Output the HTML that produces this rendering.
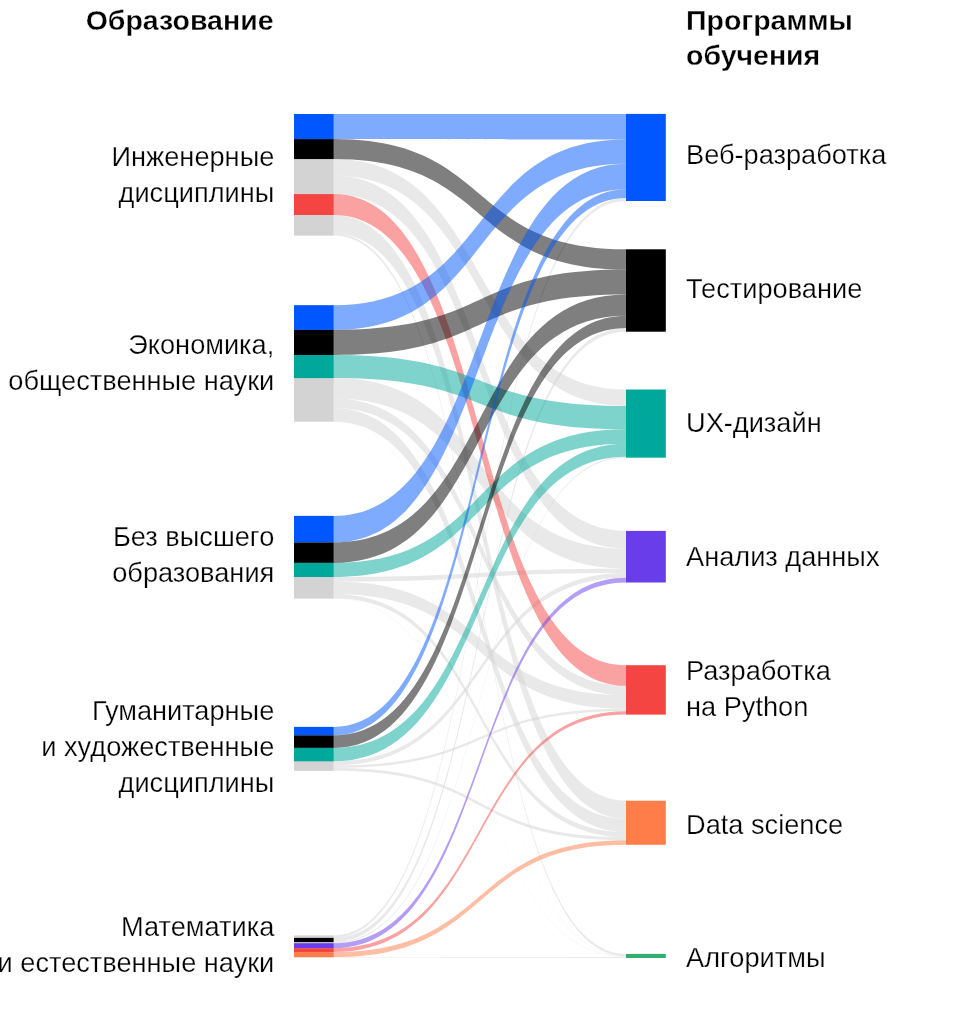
<!DOCTYPE html>
<html><head><meta charset="utf-8"><style>
html,body{margin:0;padding:0;background:#fff;}
svg{display:block;will-change:transform;}
text{font-family:"Liberation Sans",sans-serif;font-size:27.2px;fill:#000;stroke:#fff;stroke-width:0.25px;paint-order:normal;}
text.b{font-weight:bold;font-size:28.5px;stroke-width:0.3px;}
</style></head><body>
<svg width="960" height="1016" viewBox="0 0 960 1016">
<rect width="960" height="1016" fill="#fff"/>
<rect x="294" y="114" width="39.7" height="121.6" fill="#d3d3d3"/>
<rect x="294" y="305.2" width="39.7" height="116.5" fill="#d3d3d3"/>
<rect x="294" y="515.9" width="39.7" height="82.7" fill="#d3d3d3"/>
<rect x="294" y="726.9" width="39.7" height="43.9" fill="#d3d3d3"/>
<rect x="294" y="935.4" width="39.7" height="22.1" fill="#d3d3d3"/>
<rect x="294" y="114" width="39.7" height="25.1" fill="#0057ff"/>
<rect x="294" y="139.1" width="39.7" height="19.96" fill="#000000"/>
<rect x="294" y="194.1" width="39.7" height="20.9" fill="#f54543"/>
<rect x="294" y="305.2" width="39.7" height="24.7" fill="#0057ff"/>
<rect x="294" y="329.9" width="39.7" height="25.1" fill="#000000"/>
<rect x="294" y="355" width="39.7" height="23.1" fill="#00a89c"/>
<rect x="294" y="515.9" width="39.7" height="26.6" fill="#0057ff"/>
<rect x="294" y="542.5" width="39.7" height="20.4" fill="#000000"/>
<rect x="294" y="562.9" width="39.7" height="14.1" fill="#00a89c"/>
<rect x="294" y="726.9" width="39.7" height="8.5" fill="#0057ff"/>
<rect x="294" y="735.4" width="39.7" height="12.5" fill="#000000"/>
<rect x="294" y="747.9" width="39.7" height="13.4" fill="#00a89c"/>
<rect x="294" y="937.9" width="39.7" height="4.2" fill="#000000"/>
<rect x="294" y="943.2" width="39.7" height="5" fill="#6a3deb"/>
<rect x="294" y="948.2" width="39.7" height="3.9" fill="#f54543"/>
<rect x="294" y="952.1" width="39.7" height="5" fill="#ff7d48"/>
<rect x="626" y="113.9" width="39.8" height="87.1" fill="#0057ff"/>
<rect x="626" y="249.3" width="39.8" height="82.4" fill="#000000"/>
<rect x="626" y="389.5" width="39.8" height="68.2" fill="#00a89c"/>
<rect x="626" y="530.9" width="39.8" height="51.6" fill="#6a3deb"/>
<rect x="626" y="665.2" width="39.8" height="49.4" fill="#f54543"/>
<rect x="626" y="800.7" width="39.8" height="44.05" fill="#ff7d48"/>
<rect x="626" y="953.9" width="39.8" height="4.1" fill="#2eb06e"/>
<path d="M333.7 159.06C494.47 159.06 465.24 389.5 626 389.5L626 405.9C465.24 405.9 494.47 175.6 333.7 175.6Z" fill="#d3d3d3" fill-opacity="0.5"/>
<path d="M333.7 175.6C494.47 175.6 465.24 530.9 626 530.9L626 548.6C465.24 548.6 494.47 194.1 333.7 194.1Z" fill="#d3d3d3" fill-opacity="0.5"/>
<path d="M333.7 215C494.47 215 465.24 800.7 626 800.7L626 818.75C465.24 818.75 494.47 233.2 333.7 233.2Z" fill="#d3d3d3" fill-opacity="0.5"/>
<path d="M333.7 233.2C494.47 233.2 465.24 953.9 626 953.9L626 956.3C465.24 956.3 494.47 235.6 333.7 235.6Z" fill="#d3d3d3" fill-opacity="0.5"/>
<path d="M333.7 378.1C494.47 378.1 465.24 548.6 626 548.6L626 568.7C465.24 568.7 494.47 398.5 333.7 398.5Z" fill="#d3d3d3" fill-opacity="0.5"/>
<path d="M333.7 398.5C494.47 398.5 465.24 685.8 626 685.8L626 695.4C465.24 695.4 494.47 408 333.7 408Z" fill="#d3d3d3" fill-opacity="0.5"/>
<path d="M333.7 408C494.47 408 465.24 818.75 626 818.75L626 832.1C465.24 832.1 494.47 421.45 333.7 421.45Z" fill="#d3d3d3" fill-opacity="0.5"/>
<path d="M333.7 421.45C494.47 421.45 465.24 956.3 626 956.3L626 956.55C465.24 956.55 494.47 421.7 333.7 421.7Z" fill="#d3d3d3" fill-opacity="0.5"/>
<path d="M333.7 577C494.47 577 465.24 568.7 626 568.7L626 573C465.24 573 494.47 581.5 333.7 581.5Z" fill="#d3d3d3" fill-opacity="0.5"/>
<path d="M333.7 581.5C494.47 581.5 465.24 695.4 626 695.4L626 708.75C465.24 708.75 494.47 594 333.7 594Z" fill="#d3d3d3" fill-opacity="0.5"/>
<path d="M333.7 594C494.47 594 465.24 832.1 626 832.1L626 837.1C465.24 837.1 494.47 598.35 333.7 598.35Z" fill="#d3d3d3" fill-opacity="0.5"/>
<path d="M333.7 598.35C494.47 598.35 465.24 956.55 626 956.55L626 956.8C465.24 956.8 494.47 598.6 333.7 598.6Z" fill="#d3d3d3" fill-opacity="0.5"/>
<path d="M333.7 761.3C494.47 761.3 465.24 573 626 573L626 577.7C465.24 577.7 494.47 765.5 333.7 765.5Z" fill="#d3d3d3" fill-opacity="0.5"/>
<path d="M333.7 765.5C494.47 765.5 465.24 708.75 626 708.75L626 711.25C465.24 711.25 494.47 767.9 333.7 767.9Z" fill="#d3d3d3" fill-opacity="0.5"/>
<path d="M333.7 767.9C494.47 767.9 465.24 837.1 626 837.1L626 840.2C465.24 840.2 494.47 770.8 333.7 770.8Z" fill="#d3d3d3" fill-opacity="0.5"/>
<path d="M333.7 935.4C494.47 935.4 465.24 198 626 198L626 201C465.24 201 494.47 937.9 333.7 937.9Z" fill="#d3d3d3" fill-opacity="0.5"/>
<path d="M333.7 937.9C494.47 937.9 465.24 328.1 626 328.1L626 331.7C465.24 331.7 494.47 942.1 333.7 942.1Z" fill="#d3d3d3" fill-opacity="0.5"/>
<path d="M333.7 942.1C494.47 942.1 465.24 456.8 626 456.8L626 457.7C465.24 457.7 494.47 943.2 333.7 943.2Z" fill="#d3d3d3" fill-opacity="0.5"/>
<path d="M333.7 957.1C494.47 957.1 465.24 957.1 626 957.1L626 958C465.24 958 494.47 957.5 333.7 957.5Z" fill="#d3d3d3" fill-opacity="0.5"/>
<path d="M333.7 114C494.47 114 465.24 113.9 626 113.9L626 139.6C465.24 139.6 494.47 139.1 333.7 139.1Z" fill="#0057ff" fill-opacity="0.5"/>
<path d="M333.7 139.1C494.47 139.1 465.24 249.3 626 249.3L626 269.6C465.24 269.6 494.47 159.06 333.7 159.06Z" fill="#000000" fill-opacity="0.5"/>
<path d="M333.7 194.1C494.47 194.1 465.24 665.2 626 665.2L626 685.8C465.24 685.8 494.47 215 333.7 215Z" fill="#f54543" fill-opacity="0.5"/>
<path d="M333.7 305.2C494.47 305.2 465.24 139.6 626 139.6L626 163.8C465.24 163.8 494.47 329.9 333.7 329.9Z" fill="#0057ff" fill-opacity="0.5"/>
<path d="M333.7 329.9C494.47 329.9 465.24 269.6 626 269.6L626 294.5C465.24 294.5 494.47 355 333.7 355Z" fill="#000000" fill-opacity="0.5"/>
<path d="M333.7 355C494.47 355 465.24 405.9 626 405.9L626 429.2C465.24 429.2 494.47 378.1 333.7 378.1Z" fill="#00a89c" fill-opacity="0.5"/>
<path d="M333.7 515.9C494.47 515.9 465.24 163.8 626 163.8L626 189.2C465.24 189.2 494.47 542.5 333.7 542.5Z" fill="#0057ff" fill-opacity="0.5"/>
<path d="M333.7 542.5C494.47 542.5 465.24 294.5 626 294.5L626 315.7C465.24 315.7 494.47 562.9 333.7 562.9Z" fill="#000000" fill-opacity="0.5"/>
<path d="M333.7 562.9C494.47 562.9 465.24 429.2 626 429.2L626 443.7C465.24 443.7 494.47 577 333.7 577Z" fill="#00a89c" fill-opacity="0.5"/>
<path d="M333.7 726.9C494.47 726.9 465.24 189.2 626 189.2L626 198C465.24 198 494.47 735.4 333.7 735.4Z" fill="#0057ff" fill-opacity="0.5"/>
<path d="M333.7 735.4C494.47 735.4 465.24 315.7 626 315.7L626 328.1C465.24 328.1 494.47 747.9 333.7 747.9Z" fill="#000000" fill-opacity="0.5"/>
<path d="M333.7 747.9C494.47 747.9 465.24 443.7 626 443.7L626 456.8C465.24 456.8 494.47 761.3 333.7 761.3Z" fill="#00a89c" fill-opacity="0.5"/>
<path d="M333.7 943.2C494.47 943.2 465.24 577.7 626 577.7L626 582.5C465.24 582.5 494.47 948.2 333.7 948.2Z" fill="#6a3deb" fill-opacity="0.5"/>
<path d="M333.7 948.2C494.47 948.2 465.24 711.25 626 711.25L626 714.6C465.24 714.6 494.47 952.1 333.7 952.1Z" fill="#f54543" fill-opacity="0.5"/>
<path d="M333.7 952.1C494.47 952.1 465.24 840.2 626 840.2L626 844.75C465.24 844.75 494.47 957.1 333.7 957.1Z" fill="#ff7d48" fill-opacity="0.5"/>
<text x="273.5" y="29.8" text-anchor="end" class="b">Образование</text>
<text x="686" y="30.2" class="b">Программы</text>
<text x="686" y="65" class="b">обучения</text>
<text x="274.3" y="165.8" text-anchor="end">Инженерные</text>
<text x="274.3" y="201.8" text-anchor="end">дисциплины</text>
<text x="274.3" y="354.2" text-anchor="end">Экономика,</text>
<text x="274.3" y="390.2" text-anchor="end">общественные науки</text>
<text x="274.3" y="545.6" text-anchor="end">Без высшего</text>
<text x="274.3" y="581.6" text-anchor="end">образования</text>
<text x="274.3" y="720.2" text-anchor="end">Гуманитарные</text>
<text x="274.3" y="756.2" text-anchor="end">и художественные</text>
<text x="274.3" y="792.2" text-anchor="end">дисциплины</text>
<text x="274.3" y="935.6" text-anchor="end">Математика</text>
<text x="274.3" y="971.6" text-anchor="end">и естественные науки</text>
<text x="686" y="163.8">Веб-разработка</text>
<text x="686" y="297.7">Тестирование</text>
<text x="686" y="431.7">UX-дизайн</text>
<text x="686" y="566.2">Анализ данных</text>
<text x="686" y="680.3">Разработка</text>
<text x="686" y="716.3">на Python</text>
<text x="686" y="833.9">Data science</text>
<text x="686" y="967.2">Алгоритмы</text>
</svg>
</body></html>
